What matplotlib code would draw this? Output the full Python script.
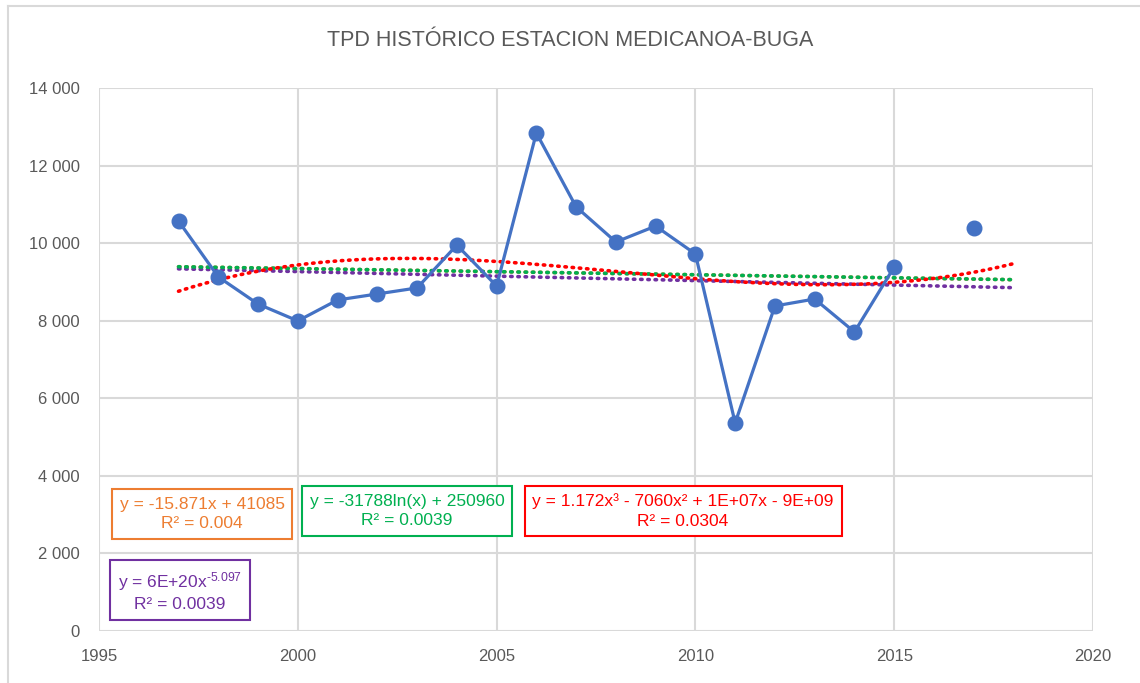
import matplotlib
matplotlib.use("Agg")
import matplotlib.pyplot as plt
import numpy as np
from matplotlib.ticker import FuncFormatter, MultipleLocator
from matplotlib.lines import Line2D

# === DATA ===
years = [1997, 1998, 1999, 2000, 2001, 2002, 2003, 2004, 2005, 2006, 2007,
         2008, 2009, 2010, 2011, 2012, 2013, 2014, 2015, 2016, 2017]
tpd = [10570, 9130, 8430, 7995, 8535, 8690, 8845, 9950, 8895, 12840, 10935,
       10030, 10440, 9720, 5365, 8380, 8560, 7710, 9385, np.nan, 10390]
title = "TPD HISTÓRICO ESTACION MEDICANOA-BUGA"
lin_label = "y = -15.871x + 41085\nR² = 0.004"
log_label = "y = -31788ln(x) + 250960\nR² = 0.0039"
poly_label = "y = 1.172x³ - 7060x² + 1E+07x - 9E+09\nR² = 0.0304"
pow_label = "y = 6E+20x$^{\u20105.097}$\nR² = 0.0039"

# === STYLE ===
FONT = ["Liberation Sans", "DejaVu Sans"]
GRAY = "#595959"
GRID = "#d9d9d9"
BLUE = "#4472C4"
ORANGE = "#ED7D31"
GREEN = "#00B050"
RED = "#FF0000"
PURPLE = "#7030A0"
W, H = 1140, 683

plt.rcParams["font.family"] = FONT
plt.rcParams["mathtext.fontset"] = "custom"
plt.rcParams["mathtext.rm"] = FONT[0]
plt.rcParams["mathtext.it"] = FONT[0]
plt.rcParams["mathtext.default"] = "regular"

x = np.array(years, dtype=float)
y = np.array(tpd, dtype=float)
ok = ~np.isnan(y)
xf, yf = x[ok], y[ok]

# trendlines fitted on the data, extended one period forward
xt = np.linspace(x.min(), x.max() + 1, 200)
lin = np.polyval(np.polyfit(xf, yf, 1), xt)
logc = np.polyfit(np.log(xf), yf, 1)
logt = logc[0] * np.log(xt) + logc[1]
x0 = xf.mean()
poly = np.polyval(np.polyfit(xf - x0, yf, 3), xt - x0)
pc = np.polyfit(np.log(xf), np.log(yf), 1)
powt = np.exp(pc[1]) * xt ** pc[0]

fig = plt.figure(figsize=(W / 100, H / 100), dpi=100)
ax = fig.add_axes([99 / W, 1 - 631 / H, (1093 - 99) / W, (631 - 88) / H])

ax.set_xlim(1995, 2020)
ax.set_ylim(0, 14000)
ax.xaxis.set_major_locator(MultipleLocator(5))
ax.yaxis.set_major_locator(MultipleLocator(2000))
ax.yaxis.set_major_formatter(FuncFormatter(lambda v, p: f"{v:,.0f}".replace(",", " ")))
ax.grid(True, color=GRID, lw=1.5)
ax.set_axisbelow(True)
for s in ax.spines.values():
    s.set_visible(False)
ax.tick_params(length=0, labelsize=12, colors=GRAY)
ax.tick_params(axis="y", pad=14)
ax.tick_params(axis="x", pad=13)

dots = dict(lw=2.6, ls=(0, (0.4, 1.6)), dash_capstyle="round", zorder=2)
ax.plot(xt, lin, color=ORANGE, **dots)
ax.plot(xt, powt, color=PURPLE, **dots)
ax.plot(xt, logt, color=GREEN, **dots)
ax.plot(xt, poly, color=RED, **dots)

ax.plot(x, y, color=BLUE, lw=2.3, marker="o", ms=10.5, zorder=3)

fig.text(0.5, 1 - 40 / H, title, ha="center", va="center", fontsize=15.5, color=GRAY)

boxes = [
    (lin_label, ORANGE, 202, 514),
    (log_label, GREEN, 407, 511),
    (poly_label, RED, 683, 511),
    (pow_label, PURPLE, 180, 591),
]
for txt, col, cx, cy in boxes:
    fig.text(cx / W, 1 - cy / H, txt, ha="center", va="center", multialignment="center",
             fontsize=12.5, color=col, linespacing=1.35,
             bbox=dict(boxstyle="square,pad=0.45", fc="white", ec=col, lw=1.5))

# chart area outer border (left and top edges visible)
fig.add_artist(Line2D([8 / W, 8 / W], [0, 1 - 6 / H], transform=fig.transFigure, color=GRID, lw=1.5))
fig.add_artist(Line2D([8 / W, 1], [1 - 6 / H, 1 - 6 / H], transform=fig.transFigure, color=GRID, lw=1.5))

fig.savefig("out.png", dpi=100, facecolor="white")
